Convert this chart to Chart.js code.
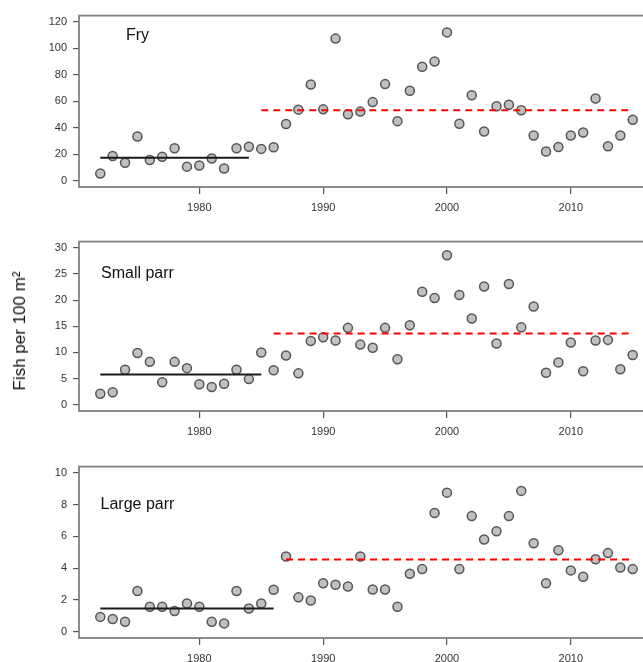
<!DOCTYPE html>
<html>
<head>
<meta charset="utf-8">
<script src="https://cdn.jsdelivr.net/npm/chart.js@4"></script>
<style>
  html, body { margin: 0; padding: 0; background: #fff; }
  body { width: 643px; height: 662px; overflow: hidden; position: relative; }
  canvas { position: absolute; left: 0; }
  #ytitle {
    position: absolute; left: 20px; top: 331px;
    transform: translate(-50%, -50%) rotate(-90deg);
    font: 17px "Liberation Sans", Arial, sans-serif; color: #111; white-space: nowrap;
  }
</style>
</head>
<body>
<canvas id="fryChart" width="660" height="214"></canvas>
<canvas id="smallChart" width="660" height="212"></canvas>
<canvas id="largeChart" width="660" height="214"></canvas>
<div id="ytitle">Fish per 100 m²</div>
<script>
/* three panels: fry, small parr, large parr */

const years = [1972, 1973, 1974, 1975, 1976, 1977, 1978, 1979, 1980, 1981, 1982, 1983, 1984, 1985,
    1986, 1987, 1988, 1989, 1990, 1991, 1992, 1993, 1994, 1995, 1996, 1997, 1998, 1999, 2000,
    2001, 2002, 2003, 2004, 2005, 2006, 2007, 2008, 2009, 2010, 2011, 2012, 2013, 2014, 2015];

const fry = [5.4, 18.6, 13.6, 33.4, 15.6, 18.1, 24.5, 10.6, 11.4, 16.8, 9.2, 24.5, 25.7, 24.0,
    25.2, 42.8, 53.7, 72.7, 53.9, 107.4, 50.2, 52.2, 59.4, 73.0, 45.0, 68.0, 86.1, 90.1, 112.1,
    43.0, 64.6, 37.1, 56.2, 57.4, 53.2, 34.1, 22.0, 25.5, 34.1, 36.4, 62.1, 26.0, 34.1, 46.0];
const smallParr = [2.1, 2.4, 6.7, 9.9, 8.2, 4.3, 8.2, 7.0, 3.9, 3.4, 4.0, 6.7, 4.9, 10.0,
    6.6, 9.4, 6.0, 12.2, 12.9, 12.3, 14.7, 11.5, 10.9, 14.7, 8.7, 15.2, 21.6, 20.4, 28.6,
    21.0, 16.5, 22.6, 11.7, 23.1, 14.8, 18.8, 6.1, 8.1, 11.9, 6.4, 12.3, 12.4, 6.8, 9.5];
const largeParr = [0.93, 0.80, 0.62, 2.56, 1.57, 1.57, 1.30, 1.77, 1.57, 0.62, 0.52, 2.56, 1.46, 1.77,
    2.64, 4.74, 2.16, 1.96, 3.05, 2.95, 2.85, 4.74, 2.66, 2.66, 1.57, 3.65, 3.94, 7.48, 8.76,
    3.94, 7.28, 5.81, 6.33, 7.28, 8.87, 5.57, 3.05, 5.13, 3.86, 3.46, 4.56, 4.95, 4.04, 3.94];

// period means (before / after)
const fryPeriods = [[1972, 1984], [1985, 2015]];
const fryMeans = [17.3, 53.2];
const smallPeriods = [[1972, 1985], [1986, 2015]];
const smallMeans = [5.8, 13.6];
const largePeriods = [[1972, 1986], [1987, 2015]];
const largeMeans = [1.46, 4.54];

const xTicks = [1980, 1990, 2000, 2010];
const fryTicks = [0, 20, 40, 60, 80, 100, 120];
const smallTicks = [0, 5, 10, 15, 20, 25, 30];
const largeTicks = [0, 2, 4, 6, 8, 10];

const FONT = '"Liberation Sans", Arial, sans-serif';

// box around plot area + panel name
const boxPlugin = {
    id: 'box',
    afterDraw(chart, args, opts) {
        const a = chart.chartArea, ctx = chart.ctx;
        ctx.save();
        ctx.strokeStyle = '#808080';
        ctx.lineWidth = 1.8;
        ctx.strokeRect(a.left, a.top, a.right - a.left, a.bottom - a.top);
        if (opts.label) {
            ctx.fillStyle = '#111';
            ctx.font = '16px ' + FONT;
            ctx.textAlign = 'center';
            ctx.textBaseline = 'middle';
            ctx.fillText(opts.label, chart.scales.x.getPixelForValue(opts.lx), chart.scales.y.getPixelForValue(opts.ly));
        }
        ctx.restore();
    }
};

function makePanel(id, top, values, periods, means, yTicks, ymin, ymax, label, ly) {
    const canvas = document.getElementById(id);
    const ctop = Math.floor(top) - 8;
    canvas.style.top = ctop + 'px';
    const lineSets = periods.map((p, i) => ({
        type: 'line',
        data: [{ x: p[0], y: means[i] }, { x: p[1], y: means[i] }],
        borderColor: i === 0 ? '#1a1a1a' : '#ff0000',
        borderWidth: 2,
        borderDash: i === 0 ? [] : [7, 5],
        pointRadius: 0,
        order: 0
    }));
    new Chart(canvas, {
        type: 'scatter',
        data: {
            datasets: [{
                data: years.map((y, i) => ({ x: y, y: values[i] })),
                backgroundColor: '#c0c0c0',
                borderColor: '#555',
                borderWidth: 1.5,
                pointRadius: 4.5,
                order: 1
            }, ...lineSets]
        },
        options: {
            responsive: false,
            animation: false,
            events: [],
            layout: { padding: { top: top - ctop, right: 6, left: 0, bottom: 0 } },
            plugins: {
                legend: { display: false },
                tooltip: { enabled: false },
                box: { label: label, lx: 1975, ly: ly }
            },
            scales: {
                x: {
                    type: 'linear',
                    min: 1970.28, max: 2016.72,
                    afterBuildTicks: s => { s.ticks = xTicks.map(v => ({ value: v })); },
                    afterFit: s => { s.height = 30; },
                    border: { display: false },
                    grid: { drawOnChartArea: false, drawTicks: true, tickLength: 7, tickColor: '#555', lineWidth: 1.2 },
                    ticks: { font: { family: FONT, size: 11 }, color: '#333', padding: 7, maxRotation: 0, callback: v => String(v) }
                },
                y: {
                    min: ymin, max: ymax,
                    afterBuildTicks: s => { s.ticks = yTicks.map(v => ({ value: v })); },
                    afterFit: s => { s.width = 79; },
                    border: { display: false },
                    grid: { drawOnChartArea: false, drawTicks: true, tickLength: 6, tickColor: '#555', lineWidth: 1.2 },
                    ticks: { font: { family: FONT, size: 11 }, color: '#333', padding: 6, callback: v => String(v) }
                }
            }
        },
        plugins: [boxPlugin]
    });
}

function initCharts() {
    makePanel('fryChart', 11.5, fry, fryPeriods, fryMeans, fryTicks, -4.8, 124.8, 'Fry', 110);
    makePanel('smallChart', 237.6, smallParr, smallPeriods, smallMeans, smallTicks, -1.2, 31.2, 'Small parr', 25);
    makePanel('largeChart', 462.8, largeParr, largePeriods, largeMeans, largeTicks, -0.4, 10.4, 'Large parr', 8);
}

document.addEventListener('DOMContentLoaded', initCharts);
</script>
</body>
</html>
